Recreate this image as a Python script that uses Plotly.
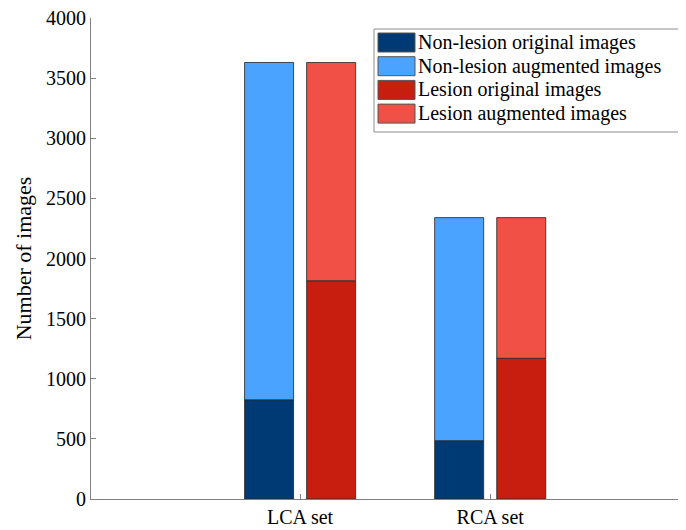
import plotly.graph_objects as go

categories = ["LCA set", "RCA set"]
nonlesion_original = [825, 485]
nonlesion_augmented = [2805, 1855]
lesion_original = [1815, 1170]
lesion_augmented = [1815, 1170]
y_ticks = [0, 500, 1000, 1500, 2000, 2500, 3000, 3500, 4000]

series_names = ["Non-lesion original images", "Non-lesion augmented images",
                "Lesion original images", "Lesion augmented images"]
series_colors = ["#003A75", "#4AA3FF", "#C81E0F", "#F05046"]

FONT = "serif"
EDGE = dict(color="#262626", width=0.8)

fig = go.Figure()
fig.add_trace(go.Bar(name=series_names[0], x=categories, y=nonlesion_original,
                     offsetgroup="nl", marker=dict(color=series_colors[0], line=EDGE)))
fig.add_trace(go.Bar(name=series_names[1], x=categories, y=nonlesion_augmented,
                     base=nonlesion_original, offsetgroup="nl",
                     marker=dict(color=series_colors[1], line=EDGE)))
fig.add_trace(go.Bar(name=series_names[2], x=categories, y=lesion_original,
                     offsetgroup="l", marker=dict(color=series_colors[2], line=EDGE)))
fig.add_trace(go.Bar(name=series_names[3], x=categories, y=lesion_augmented,
                     base=lesion_original, offsetgroup="l",
                     marker=dict(color=series_colors[3], line=EDGE)))

# page has an 8px body margin: figure coords = reference pixels - 8
OFF = 8
W, H = 686 - OFF, 530 - OFF
L, R, T, B = 91 - OFF, 686 - OFF, 18 - OFF, 499 - OFF
def px(x):
    return (x - OFF - L) / (R - L)
def py(y):
    return (B - (y - OFF)) / (B - T)

shapes = [dict(type="rect", xref="paper", yref="paper",
               x0=px(374), x1=px(684), y0=py(132), y1=py(29),
               line=dict(color="#8c8c8c", width=1), fillcolor="white", layer="above")]
annotations = []
row_top = 33
row_step = 23.7
for i, (name, col) in enumerate(zip(series_names, series_colors)):
    t = row_top + i * row_step
    shapes.append(dict(type="rect", xref="paper", yref="paper",
                       x0=px(378), x1=px(415), y0=py(t + 19), y1=py(t),
                       line=dict(color="#555555", width=1), fillcolor=col, layer="above"))
    annotations.append(dict(xref="paper", yref="paper", x=px(416), y=py(t + 9.5),
                            xanchor="left", yanchor="middle", showarrow=False,
                            text=name, font=dict(family=FONT, size=20, color="black")))

fig.update_layout(
    width=W, height=H,
    margin=dict(l=L, r=W - R, t=T, b=H - B),
    barmode="group", bargap=0.347, bargroupgap=0.21,
    plot_bgcolor="white", paper_bgcolor="white",
    font=dict(family=FONT, size=20, color="black"),
    showlegend=False,
    shapes=shapes, annotations=annotations,
    xaxis=dict(type="category", range=[-1.1, 2.03], showline=True, linecolor="#808080",
               linewidth=1, ticks="inside", ticklen=5, tickcolor="#808080",
               showgrid=False, zeroline=False,
               tickfont=dict(family=FONT, size=20, color="black"),
               ticklabelstandoff=0, automargin=False, ticklabeloverflow="allow"),
    yaxis=dict(range=[0, 4000], tickvals=y_ticks, showline=True, linecolor="#808080",
               linewidth=1, ticks="inside", ticklen=5, tickcolor="#808080",
               showgrid=False, zeroline=False,
               tickfont=dict(family=FONT, size=20, color="black"),
               automargin=False, ticklabeloverflow="allow",
               title=dict(text="Number of images",
                          font=dict(family=FONT, size=22, color="black"), standoff=8)),
)

fig.write_html("out.html")
